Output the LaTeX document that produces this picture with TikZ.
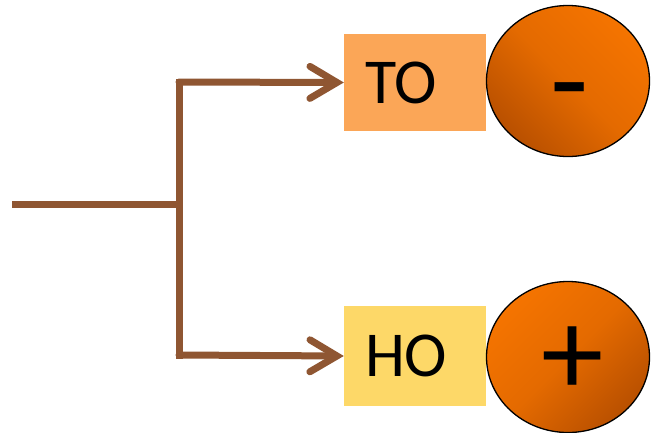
\documentclass[tikz,border=0pt]{standalone}
\usepackage{fontspec}
\setmainfont{Carlito}
\usetikzlibrary{arrows.meta,shapes.geometric}
\definecolor{wire}{RGB}{143,86,50}
\definecolor{toorange}{RGB}{251,166,87}
\definecolor{hoyellow}{RGB}{253,216,104}
\definecolor{ionlight}{RGB}{245,116,0}
\definecolor{ionmid}{RGB}{228,106,0}
\definecolor{iondark}{RGB}{185,80,0}
\tikzset{
  lead/.style={draw=wire,line width=7pt},
  feed/.style={lead,line cap=round,-{Straight Barb[length=27pt,width=32pt,line cap=round]}},
  cell/.style={minimum height=97pt,text width=100pt,inner xsep=21pt,inner ysep=0pt,align=left,
    font=\fontsize{64}{64}\selectfont},
  ion/.style={ellipse,draw=black,line width=1.3pt,minimum width=163pt,minimum height=151pt,inner sep=0pt},
  sign/.style={inner sep=0pt,font=\fontsize{125}{125}\selectfont}
}
\begin{document}
\begin{tikzpicture}[x=1pt,y=-1pt]
  \useasboundingbox (0,0) rectangle (651,432);

  % Boxes
  \node[cell,fill=toorange] (to) at (415,82.5) {TO};
  \node[cell,fill=hoyellow,minimum height=100pt] (ho) at (415,356) {HO};

  % Ions
  \node[ion,top color=ionlight,bottom color=iondark,middle color=ionmid,shading angle=-45] (minus) at (568,81) {};
  \node[ion,top color=ionlight,bottom color=iondark,middle color=ionmid,shading angle=45] (plus) at (568,357) {};
  \node[sign] (minussign) at ([xshift=2pt,yshift=-22pt]minus.center) {-};
  \node[sign] (plussign) at ([xshift=5pt,yshift=-4pt]plus.center) {+};

  % Wires
  \coordinate (in) at (12,204);
  \coordinate (split) at (179,204);
  \draw[lead] (in) -- ([xshift=3.5pt]split);
  \draw[lead,line cap=rect] (179,82) -- (179,355);
  \draw[feed] (179,82) -- (to.west);
  \draw[feed] (179,355) -- (ho.west);
\end{tikzpicture}
\end{document}
